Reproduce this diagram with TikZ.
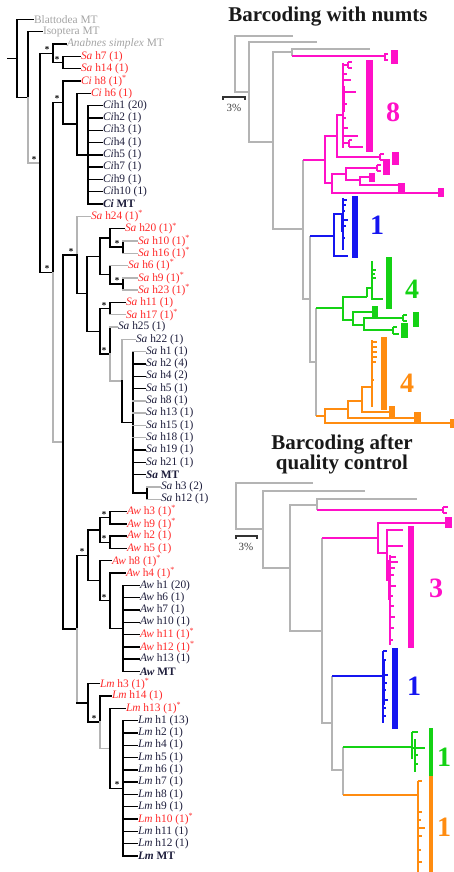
\documentclass[tikz,border=0pt]{standalone}
\usepackage{fontspec}
\setmainfont{Liberation Serif}
\usetikzlibrary{calc}
\definecolor{tgray}{HTML}{B4B4B4}
\definecolor{lgray}{HTML}{A4A4A4}
\definecolor{tred}{HTML}{FF2A2A}
\definecolor{tdark}{HTML}{1E1E3C}
\definecolor{tmag}{HTML}{FF10C8}
\definecolor{tblue}{HTML}{1515F0}
\definecolor{tgreen}{HTML}{14D214}
\definecolor{torange}{HTML}{FF8C10}
\tikzset{
  br/.style={line width=1.4pt, black, line cap=rect},
  brg/.style={line width=1.4pt, tgray, line cap=rect},
  lab/.style={inner sep=0.8pt, font=\fontsize{11.4}{11.4}\selectfont},
  gl/.style={text=lgray},
  rl/.style={text=tred},
  dl/.style={text=tdark},
  ast/.style={inner sep=0pt, font=\fontsize{9}{9}\selectfont\bfseries},
  rg/.style={line width=1.2pt, tgray},
  rm/.style={line width=1.2pt, tmag},
  rb/.style={line width=1.2pt, tblue},
  rgr/.style={line width=1.2pt, tgreen},
  ro/.style={line width=1.2pt, torange},
  big/.style={font=\fontsize{28}{28}\selectfont\bfseries},
  ttl/.style={font=\fontsize{21}{19}\selectfont\bfseries, text=black!90, align=center},
  pct/.style={font=\fontsize{11}{11}\selectfont, text=black!75}
}
\newcommand\Leaf[5]{\node[lab,#4,anchor=west] (#1) at (#2,{19.5+12.3*#3}) {#5};}
\newcommand\Clade[4]{\path let \p1=($(#3)!.5!(#4)$) in (#2pt,\y1) coordinate (#1);}
\newcommand\Vbr[4][br]{\draw[#1] (#2 |- #3) -- (#2 |- #4);}
\newcommand\Hbr[3][br]{\draw[#1] (#2 |- #3) -- (#3);}
\newcommand\Ast{\textsuperscript{*}}
\newcommand\Sa{\textit{Sa}}
\newcommand\Ci{\textit{Ci}}
\newcommand\Aw{\textit{Aw}}
\newcommand\Lm{\textit{Lm}}
\newcommand\Sup[1]{\node[ast] at ([xshift=-6pt,yshift=3.5pt]#1) {*};}
\begin{document}
\begin{tikzpicture}[x=1pt,y=-1pt]
\useasboundingbox (0,0) rectangle (453,872);
% ---------------- left tree: leaves
\Leaf{L0}{33}{0}{gl}{Blattodea MT}
\Leaf{L1}{42}{1}{gl}{Isoptera MT}
\Leaf{L2}{66}{2}{gl}{\textit{Anabnes simplex} MT}
\Leaf{L3}{80}{3}{rl}{\Sa\ h7 (1)}
\Leaf{L4}{80}{4}{rl}{\Sa\ h14 (1)}
\Leaf{L5}{80}{5}{rl}{\Ci\ h8 (1)\Ast}
\Leaf{L6}{90}{6}{rl}{\Ci\ h6 (1)}
\Leaf{L7}{102}{7}{dl}{\Ci h1 (20)}
\Leaf{L8}{102}{8}{dl}{\Ci h2 (1)}
\Leaf{L9}{102}{9}{dl}{\Ci h3 (1)}
\Leaf{L10}{102}{10}{dl}{\Ci h4 (1)}
\Leaf{L11}{102}{11}{dl}{\Ci h5 (1)}
\Leaf{L12}{102}{12}{dl}{\Ci h7 (1)}
\Leaf{L13}{102}{13}{dl}{\Ci h9 (1)}
\Leaf{L14}{102}{14}{dl}{\Ci h10 (1)}
\Leaf{L15}{102}{15}{dl}{\bfseries\Ci\ MT}
\Leaf{L16}{90}{16}{rl}{\Sa\ h24 (1)\Ast}
\Leaf{L17}{124}{17}{rl}{\Sa\ h20 (1)\Ast}
\Leaf{L18}{137}{18}{rl}{\Sa\ h10 (1)\Ast}
\Leaf{L19}{137}{19}{rl}{\Sa\ h16 (1)\Ast}
\Leaf{L20}{127}{20}{rl}{\Sa\ h6 (1)\Ast}
\Leaf{L21}{137}{21}{rl}{\Sa\ h9 (1)\Ast}
\Leaf{L22}{137}{22}{rl}{\Sa\ h23 (1)\Ast}
\Leaf{L23}{125}{23}{rl}{\Sa\ h11 (1)}
\Leaf{L24}{125}{24}{rl}{\Sa\ h17 (1)\Ast}
\Leaf{L25}{117}{25}{dl}{\Sa\ h25 (1)}
\Leaf{L26}{135}{26}{dl}{\Sa\ h22 (1)}
\Leaf{L27}{145}{27}{dl}{\Sa\ h1 (1)}
\Leaf{L28}{145}{28}{dl}{\Sa\ h2 (4)}
\Leaf{L29}{145}{29}{dl}{\Sa\ h4 (2)}
\Leaf{L30}{145}{30}{dl}{\Sa\ h5 (1)}
\Leaf{L31}{145}{31}{dl}{\Sa\ h8 (1)}
\Leaf{L32}{145}{32}{dl}{\Sa\ h13 (1)}
\Leaf{L33}{145}{33}{dl}{\Sa\ h15 (1)}
\Leaf{L34}{145}{34}{dl}{\Sa\ h18 (1)}
\Leaf{L35}{145}{35}{dl}{\Sa\ h19 (1)}
\Leaf{L36}{145}{36}{dl}{\Sa\ h21 (1)}
\Leaf{L37}{145}{37}{dl}{\bfseries\Sa\ MT}
\Leaf{L38}{160}{38}{dl}{\Sa\ h3 (2)}
\Leaf{L39}{160}{39}{dl}{\Sa\ h12 (1)}
\Leaf{L40}{126}{40}{rl}{\Aw\ h3 (1)\Ast}
\Leaf{L41}{126}{41}{rl}{\Aw\ h9 (1)\Ast}
\Leaf{L42}{126}{42}{rl}{\Aw\ h2 (1)}
\Leaf{L43}{126}{43}{rl}{\Aw\ h5 (1)}
\Leaf{L44}{111}{44}{rl}{\Aw\ h8 (1)\Ast}
\Leaf{L45}{125}{45}{rl}{\Aw\ h4 (1)\Ast}
\Leaf{L46}{139}{46}{dl}{\Aw\ h1 (20)}
\Leaf{L47}{139}{47}{dl}{\Aw\ h6 (1)}
\Leaf{L48}{139}{48}{dl}{\Aw\ h7 (1)}
\Leaf{L49}{139}{49}{dl}{\Aw\ h10 (1)}
\Leaf{L50}{139}{50}{rl}{\Aw\ h11 (1)\Ast}
\Leaf{L51}{139}{51}{rl}{\Aw\ h12 (1)\Ast}
\Leaf{L52}{139}{52}{dl}{\Aw\ h13 (1)}
\Leaf{L53}{139}{53}{dl}{\bfseries\Aw\ MT}
\Leaf{L54}{99}{54}{rl}{\Lm\ h3 (1)\Ast}
\Leaf{L55}{111}{55}{rl}{\Lm\ h14 (1)}
\Leaf{L56}{125}{56}{rl}{\Lm\ h13 (1)\Ast}
\Leaf{L57}{137}{57}{dl}{\Lm\ h1 (13)}
\Leaf{L58}{137}{58}{dl}{\Lm\ h2 (1)}
\Leaf{L59}{137}{59}{dl}{\Lm\ h4 (1)}
\Leaf{L60}{137}{60}{dl}{\Lm\ h5 (1)}
\Leaf{L61}{137}{61}{dl}{\Lm\ h6 (1)}
\Leaf{L62}{137}{62}{dl}{\Lm\ h7 (1)}
\Leaf{L63}{137}{63}{dl}{\Lm\ h8 (1)}
\Leaf{L64}{137}{64}{dl}{\Lm\ h9 (1)}
\Leaf{L65}{137}{65}{rl}{\Lm\ h10 (1)\Ast}
\Leaf{L66}{137}{66}{dl}{\Lm\ h11 (1)}
\Leaf{L67}{137}{67}{dl}{\Lm\ h12 (1)}
\Leaf{L68}{137}{68}{dl}{\bfseries\Lm\ MT}
% ---------------- internal nodes
\Clade{nCs}{63}{L3}{L4}
\Clade{nC}{53}{L2}{nCs}
\Clade{nH}{88}{L7}{L15}
\Clade{nG}{77}{L6}{nH}
\Clade{nE}{63}{L5}{nG}
\Clade{nL}{123}{L18}{L19}
\Clade{nK}{110}{L17}{nL}
\Clade{nN}{123}{L21}{L22}
\Clade{nM}{110}{L20}{nN}
\Clade{nJ}{100}{nK}{nM}
\Clade{nO}{110}{L23}{L24}
\Clade{nU}{147}{L38}{L39}
\Clade{nT}{133}{L27}{nU}
\Clade{nS}{122}{L26}{nT}
\Clade{nR}{110}{L25}{nS}
\Clade{nQ}{100}{nO}{nR}
\Clade{nI}{87}{nJ}{nQ}
\Clade{nFa}{77}{L16}{nI}
\Clade{nV}{110}{L40}{L41}
\Clade{nW}{110}{L42}{L43}
\Clade{nX}{100}{nV}{nW}
\Clade{nCC}{123}{L46}{L53}
\Clade{nBB}{110}{L45}{nCC}
\Clade{nAA}{100}{L44}{nBB}
\Clade{nY}{88}{nX}{nAA}
\Clade{nGG}{123}{L57}{L68}
\Clade{nFF}{110}{L56}{nGG}
\Clade{nEE}{100}{L55}{nFF}
\Clade{nDD}{88}{L54}{nEE}
\Clade{nFb}{77}{nY}{nDD}
\Clade{nF}{63}{nFa}{nFb}
\Clade{nD}{53}{nE}{nF}
\Clade{nB}{40}{nC}{nD}
\Clade{nA}{28}{L1}{nB}
\Clade{nR0}{17}{L0}{nA}
% ---------------- branches
\draw[br] (nR0) -- ++(-9,0);
\Vbr{nR0}{L0}{nA} \Hbr{nR0}{L0} \Hbr{nR0}{nA}
\Vbr{nA}{L1}{nA} \Vbr[brg]{nA}{nA}{nB} \Hbr{nA}{L1} \Hbr[brg]{nA}{nB}
\Vbr{nB}{nC}{nD} \Hbr{nB}{nC} \Hbr{nB}{nD}
\Vbr{nC}{L2}{nCs} \Hbr{nC}{L2} \Hbr{nC}{nCs}
\Vbr{nCs}{L3}{L4} \Hbr{nCs}{L3} \Hbr{nCs}{L4}
\Vbr{nD}{nE}{nD} \Vbr[brg]{nD}{nD}{nF} \Hbr{nD}{nE} \Hbr[brg]{nD}{nF}
\Vbr{nE}{L5}{nG} \Hbr{nE}{L5} \Hbr{nE}{nG}
\Vbr{nG}{L6}{nH} \Hbr{nG}{L6} \Hbr{nG}{nH}
\Vbr{nH}{L7}{L15}
\foreach \i in {7,...,15} {\Hbr{nH}{L\i}}
\Vbr{nF}{nFa}{nFb} \Hbr{nF}{nFa} \Hbr{nF}{nFb}
\Vbr[brg]{nFa}{L16}{nFa} \Vbr{nFa}{nFa}{nI} \Hbr[brg]{nFa}{L16} \Hbr{nFa}{nI}
\Vbr{nI}{nJ}{nQ} \Hbr{nI}{nJ} \Hbr{nI}{nQ}
\Vbr{nJ}{nK}{nM} \Hbr{nJ}{nK} \Hbr{nJ}{nM}
\Vbr{nK}{L17}{nL} \Hbr{nK}{L17} \Hbr{nK}{nL}
\Vbr{nL}{L18}{L19} \Hbr[brg]{nL}{L18} \Hbr[brg]{nL}{L19}
\Vbr{nM}{L20}{nN} \Hbr[brg]{nM}{L20} \Hbr{nM}{nN}
\Vbr{nN}{L21}{L22} \Hbr[brg]{nN}{L21} \Hbr[brg]{nN}{L22}
\Vbr{nQ}{nO}{nR} \Hbr{nQ}{nO} \Hbr{nQ}{nR}
\Vbr{nO}{L23}{L24} \Hbr{nO}{L23} \Hbr[brg]{nO}{L24}
\Vbr{nR}{L25}{nR} \Vbr[brg]{nR}{nR}{nS} \Hbr[brg]{nR}{L25} \Hbr[brg]{nR}{nS}
\Vbr[brg]{nS}{L26}{nS} \Vbr{nS}{nS}{nT} \Hbr[brg]{nS}{L26} \Hbr{nS}{nT}
\Vbr{nT}{L27}{nU} \Hbr{nT}{nU}
\foreach \i in {28,29,30,35,36,37} {\Hbr{nT}{L\i}}
\foreach \i in {27,31,32,33,34} {\Hbr[brg]{nT}{L\i}}
\Vbr{nU}{L38}{L39} \Hbr[brg]{nU}{L38} \Hbr[brg]{nU}{L39}
\Vbr{nFb}{nY}{nFb} \Vbr[brg]{nFb}{nFb}{nDD} \Hbr{nFb}{nY} \Hbr{nFb}{nDD}
\Vbr{nY}{nX}{nAA} \Hbr{nY}{nX} \Hbr{nY}{nAA}
\Vbr{nX}{nV}{nW} \Hbr{nX}{nV} \Hbr{nX}{nW}
\Vbr{nV}{L40}{L41} \Hbr{nV}{L40} \Hbr{nV}{L41}
\Vbr{nW}{L42}{L43} \Hbr{nW}{L42} \Hbr{nW}{L43}
\Vbr{nAA}{L44}{nBB} \Hbr{nAA}{L44} \Hbr{nAA}{nBB}
\Vbr{nBB}{L45}{nCC} \Hbr{nBB}{L45} \Hbr{nBB}{nCC}
\Vbr{nCC}{L46}{L53}
\foreach \i in {46,...,53} {\Hbr{nCC}{L\i}}
\Vbr{nDD}{L54}{nEE} \Hbr{nDD}{L54} \Hbr{nDD}{nEE}
\Vbr{nEE}{L55}{nEE} \Vbr[brg]{nEE}{nEE}{nFF} \Hbr{nEE}{L55} \Hbr[brg]{nEE}{nFF}
\Vbr{nFF}{L56}{nGG} \Hbr{nFF}{L56} \Hbr{nFF}{nGG}
\Vbr{nGG}{L57}{L68}
\foreach \i in {57,...,68} {\Hbr{nGG}{L\i}}
% support marks
\Sup{nC} \Sup{nCs} \Sup{nE} \Sup{nB} \Sup{nD} \Sup{nFa} \Sup{nL} \Sup{nN}
\Sup{nO} \Sup{nR} \Sup{nV} \Sup{nW} \Sup{nY} \Sup{nBB} \Sup{nEE} \Sup{nGG}
% ---------------- upper right tree
\node[ttl] (t1) at (328,17) {Barcoding with numts};
\draw[line width=1.2pt,black!80] (223,100) -- (223,97) -- (245,97) -- (245,100);
\node[pct] (p1) at (234,108) {3\%};
\draw[rg] (293,36) -| (235,92) -- (249,92);
\draw[rg] (317,42) -| (249,142) -- (273,142);
\draw[rg] (292,52) -| (273,229) -- (303,229);
\draw[rg] (370,49) -| (292,56);
\draw[rm] (292,56) -- (385,56);
\draw[rm] (388,54) -| (385,60) -- (388,60);
\fill[tmag] (391,50) rectangle (398,64);
\draw[rg] (303,160) -- (303,299) -- (310,299);
\draw[rm] (303,160) -- (325,160);
\draw[rg] (310,236) -- (310,362) -- (316,362);
\draw[rb] (310,236) -- (334,236);
\draw[rg] (316,308) -- (316,416);
\draw[rgr] (316,308) -- (343,308);
\draw[ro] (316,416) -- (325,416);
% magenta 8
\draw[rm] (337,136) -| (325,183) -- (332,183);
\draw[rm] (343,115) -| (337,157) -- (380,157);
\draw[rm] (343,63) -- (343,148);
\draw[rm] (343,65) -- (348,65) (348,62) -- (348,68) (348,62) -- (352,62) (348,68) -- (352,68)
  (343,74) -- (347,74) (343,80) -- (351,80) (343,92) -- (356,92) (343,104) -- (347,104)
  (343,118) -- (346,118) (343,128) -- (348,128) (343,136) -- (358,136) (343,143) -- (349,143)
  (349,140) -- (349,147) (349,140) -- (352,140) (349,147) -- (363,147);
\draw[tmag,line width=2.6pt] (344,86) -- (344,112);
\draw[rm] (380,154) -- (380,160) (380,154) -- (384,154) (380,160) -- (386,160);
\fill[tmag] (392,152) rectangle (399,165);
\fill[tmag] (366,60) rectangle (373,152);
\node[big,text=tmag] (n8) at (393,112) {8};
\draw[rm] (346,174) -| (332,193) -- (439,193);
\fill[tmag] (438,188) rectangle (444,197);
\draw[rm] (377,168) -| (346,180) -- (360,180);
\draw[rm] (377,165) -- (377,171) (377,165) -- (381,165) (377,171) -- (381,171);
\fill[tmag] (383,159) rectangle (390,175);
\draw[rm] (369,177) -| (360,185) -- (398,185);
\fill[tmag] (369,173) rectangle (375,182);
\fill[tmag] (398,183) rectangle (405,193);
% blue 1
\draw[rb] (343,214) -| (334,256) -- (348,256);
\draw[rb] (343,198) -- (343,250);
\draw[rb] (343,200) -- (347,200) (343,205) -- (346,205) (343,211) -- (345,211)
  (343,220) -- (348,220) (343,226) -- (346,226) (343,238) -- (345,238);
\draw[tblue,line width=2.2pt] (342,215) -- (342,232);
\fill[tblue] (352,196) rectangle (358,258);
\node[big,text=tblue] (n1a) at (377,225) {1};
% green 4
\draw[rgr] (367,297) -| (343,320) -- (353,320);
\draw[rgr] (367,297) -- (367,288) -- (372,288);
\draw[rgr] (372,261) -- (372,299) -- (383,299);
\draw[rgr] (372,270) -- (376,270) (372,274) -- (375,274) (372,278) -- (376,278);
\draw[rgr] (372,312) -| (353,325) -- (364,325);
\fill[tgreen] (372,306) rectangle (378,317);
\draw[rgr] (403,318) -| (364,330) -- (393,330);
\draw[rgr] (403,315) -- (403,321) (403,315) -- (407,315) (403,321) -- (407,321);
\fill[tgreen] (413,312) rectangle (419,327);
\draw[rgr] (393,327) -- (393,334) (393,327) -- (397,327) (393,334) -- (399,334);
\fill[tgreen] (401,323) rectangle (408,338);
\fill[tgreen] (386,257) rectangle (392,309);
\node[big,text=tgreen] (n4a) at (412,289) {4};
% orange 4
\draw[ro] (348,409) -| (325,423) -- (453,423);
\fill[torange] (450,419) rectangle (456,428);
\draw[ro] (362,401) -| (348,418) -- (414,418);
\fill[torange] (414,412) rectangle (421,423);
\draw[ro] (372,387) -| (362,412) -- (389,412);
\fill[torange] (389,406) rectangle (395,417);
\draw[ro] (372,340) -- (372,407);
\draw[ro] (372,342) -- (377,342) (372,347) -- (377,347) (372,352) -- (377,352)
  (372,357) -- (377,357) (372,362) -- (376,362) (372,380) -- (374,380);
\fill[torange] (381,337) rectangle (387,410);
\node[big,text=torange] (n4b) at (407,383) {4};
% ---------------- lower right tree
\node[ttl] (t2) at (342,454) {Barcoding after\\quality control};
\draw[line width=1.2pt,black!80] (236,539) -- (236,536) -- (257,536) -- (257,539);
\node[pct] (p2) at (246,547) {3\%};
\draw[rg] (313,483) -| (236,529) -- (263,529);
\draw[rg] (365,491) -| (263,568) -- (290,568);
\draw[rg] (317,505) -| (290,631) -- (322,631);
\draw[rg] (417,499) -| (317,510);
\draw[rm] (317,510) -- (443,510);
\draw[rm] (443,507) -- (443,513) (443,507) -- (448,507) (443,513) -- (447,513);
\draw[rg] (322,538) -- (322,723) -- (332,723);
\draw[rm] (322,538) -- (378,538);
\draw[rg] (332,676) -- (332,770) -- (343,770);
\draw[rb] (332,676) -- (383,676);
\draw[rg] (343,747) -- (343,795);
\draw[rgr] (343,747) -- (412,747);
\draw[ro] (343,795) -- (418,795);
% magenta 3
\draw[rm] (445,523) -| (378,553) -- (387,553);
\fill[tmag] (445,517) rectangle (452,528);
\draw[rm] (403,530) -| (387,580) -- (390,580);
\draw[rm] (387,546) -- (403,546);
\draw[rm] (390,555) -- (390,645);
\draw[tmag,line width=2.4pt] (389,560) -- (389,600);
\draw[rm] (390,557) -- (396,557) (390,562) -- (398,562) (390,568) -- (395,568) (390,575) -- (394,575)
  (390,586) -- (396,586) (390,596) -- (393,596) (390,606) -- (394,606) (390,617) -- (395,617)
  (390,628) -- (394,628) (390,640) -- (393,640);
\fill[tmag] (408,526) rectangle (414,648);
\node[big,text=tmag] (n3) at (436,588) {3};
% blue 1
\draw[rb] (383,651) -- (383,723);
\draw[tblue,line width=2.4pt] (384,660) -- (384,705);
\draw[rb] (383,651) -- (387,651) (383,660) -- (386,660) (383,675) -- (388,675) (383,683) -- (387,683)
  (383,690) -- (386,690) (383,700) -- (388,700) (383,708) -- (386,708) (383,716) -- (386,716);
\fill[tblue] (392,648) rectangle (398,729);
\node[big,text=tblue] (n1b) at (414,686) {1};
% green 1
\draw[rgr] (412,732) -- (412,759);
\draw[rgr] (412,732) -- (418,732);
\draw[rgr] (415,739) -- (415,772);
\draw[rgr] (412,748) -- (425,748);
\draw[rgr] (415,755) -- (418,755) (415,764) -- (418,764);
\fill[tgreen] (429,728) rectangle (433,776);
\node[big,text=tgreen] (n1c) at (444,757) {1};
% orange 1
\draw[ro] (418,781) -- (418,872);
\draw[ro] (418,781) -- (422,781) (418,812) -- (422,812) (418,820) -- (421,820) (418,828) -- (425,828)
  (418,836) -- (422,836) (418,850) -- (421,850) (418,862) -- (422,862);
\fill[torange] (429,776) rectangle (433,872);
\node[big,text=torange] (n1d) at (444,827) {1};
\end{tikzpicture}
\end{document}
